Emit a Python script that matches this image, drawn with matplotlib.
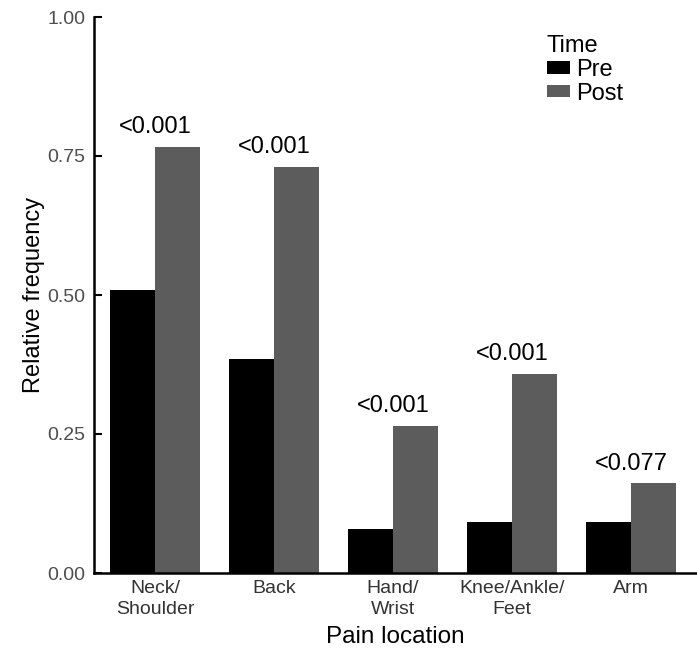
import numpy as np
import matplotlib
matplotlib.use("Agg")
import matplotlib.pyplot as plt
from matplotlib.patches import Patch

plt.rcParams['font.family'] = ['Liberation Sans', 'DejaVu Sans']

locations = ["Neck/\nShoulder", "Back", "Hand/\nWrist", "Knee/Ankle/\nFeet", "Arm"]
pre = [0.509, 0.385, 0.079, 0.091, 0.091]
post = [0.767, 0.731, 0.265, 0.358, 0.161]
pvals = ["<0.001", "<0.001", "<0.001", "<0.001", "<0.077"]

fig = plt.figure(figsize=(6.97, 6.51), dpi=100)
ax = fig.add_axes([94 / 697, 1 - 573 / 651, 603 / 697, 556 / 651])

x = np.arange(len(locations))
w = 0.382
ax.bar(x - w / 2, pre, width=w, color="black", edgecolor="none")
ax.bar(x + w / 2, post, width=w, color="#5c5c5c", edgecolor="none")

for xi, v, p in zip(x, post, pvals):
    ax.text(xi, v + 0.016, p, ha="center", va="bottom", fontsize=17, color="black")

ax.set_xlim(-0.513, 4.555)
ax.set_ylim(0, 1)
ax.set_yticks([0, 0.25, 0.5, 0.75, 1.0])
ax.set_yticklabels(["0.00", "0.25", "0.50", "0.75", "1.00"])
ax.set_xticks(x)
ax.set_xticklabels(locations, fontsize=14, color="#333333", linespacing=1.3)
ax.tick_params(axis="x", length=0, pad=5)
ax.tick_params(axis="y", direction="in", length=6, width=1.5, labelsize=14,
               labelcolor="#4d4d4d", pad=6)

for s in ["top", "right"]:
    ax.spines[s].set_visible(False)
ax.spines["left"].set_linewidth(1.8)
ax.spines["bottom"].set_linewidth(1.8)

ax.set_xlabel("Pain location", fontsize=17.5, labelpad=6)
ax.set_ylabel("Relative frequency", fontsize=17, labelpad=2)

handles = [Patch(facecolor="black", label="Pre"), Patch(facecolor="#5c5c5c", label="Post")]
leg = ax.legend(handles=handles, title="Time", loc="upper left",
                bbox_to_anchor=(0.735, 0.985), frameon=False, fontsize=17,
                title_fontsize=17, handlelength=1.0, handleheight=0.45,
                handletextpad=0.25, labelspacing=0.08, borderaxespad=0)
leg._legend_box.align = "left"

fig.savefig("out.png", dpi=100)
